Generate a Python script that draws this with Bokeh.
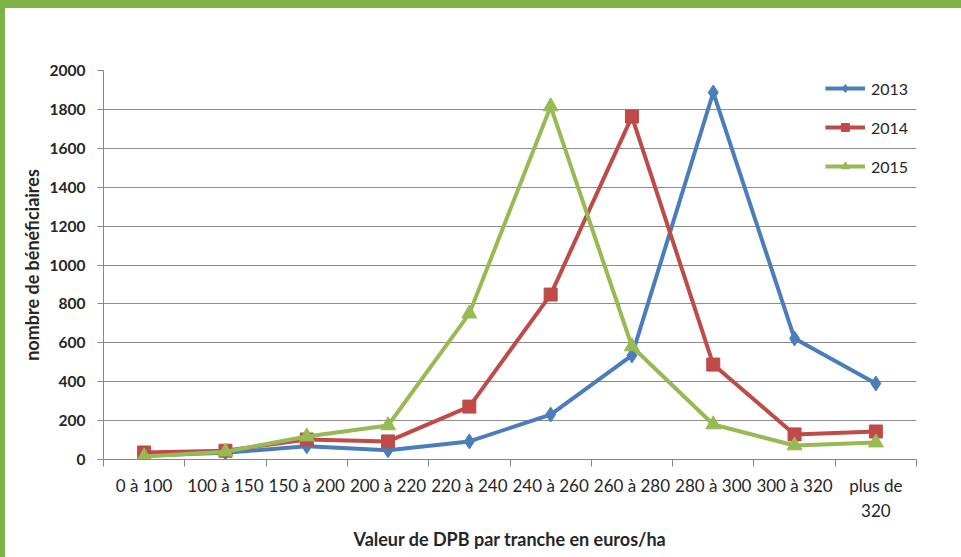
import numpy as np
from bokeh.plotting import figure
from bokeh.models import FixedTicker, Legend, LegendItem, Range1d, InlineStyleSheet
from bokeh.embed import file_html
from bokeh.resources import INLINE

categories = ["0 à 100", "100 à 150", "150 à 200", "200 à 220", "220 à 240",
              "240 à 260", "260 à 280", "280 à 300", "300 à 320", "plus de 320"]
tick_labels = ["0 à 100", "100 à 150", "150 à 200", "200 à 220", "220 à 240",
               "240 à 260", "260 à 280", "280 à 300", "300 à 320", "plus de\n320"]
years = ["2013", "2014", "2015"]
v2013 = [20, 35, 68, 47, 93, 231, 535, 1887, 622, 391]
v2014 = [36, 45, 103, 93, 272, 848, 1763, 488, 129, 144]
v2015 = [15, 40, 118, 175, 750, 1815, 581, 180, 72, 87]
y_ticks = list(range(0, 2001, 200))

FONT = "Lato"
colors = ["#4a7ebb", "#be4b48", "#98b954"]

n = len(categories)
xs = np.arange(n) + 0.5

p = figure(width=961, height=557, output_backend="svg", toolbar_location=None,
           x_range=Range1d(0, n), y_range=Range1d(0, 2000),
           min_border_left=103, min_border_right=45, min_border_top=70,
           min_border_bottom=98)
p.stylesheets = [InlineStyleSheet(css="""
:host::before { content: ""; position: absolute; left: 0; top: 0; width: 100%; height: 8px;
                background: #7db249; z-index: 100; pointer-events: none; }
:host::after { content: ""; position: absolute; left: 0; top: 0; width: 5px; height: 100%;
               background: #7db249; z-index: 100; pointer-events: none; }
""")]
p.outline_line_color = None
p.background_fill_color = "white"
p.border_fill_color = "white"

# x axis
p.xaxis.ticker = FixedTicker(ticks=list(xs), minor_ticks=list(range(0, n + 1)))
p.xaxis.major_label_overrides = {float(x): lab for x, lab in zip(xs, tick_labels)}
p.xaxis.major_tick_line_color = None
p.xaxis.major_tick_out = 0
p.xaxis.major_tick_in = 0
p.xaxis.minor_tick_out = 7
p.xaxis.minor_tick_in = 0
p.xaxis.minor_tick_line_color = "#868686"
p.xaxis.axis_line_color = "#868686"
p.xaxis.major_label_standoff = 8
p.xaxis.major_label_text_font = FONT
p.xaxis.major_label_text_font_size = "17px"
p.xaxis.major_label_text_color = "#262626"
p.xaxis.axis_label = "Valeur de DPB par tranche en euros/ha"
p.xaxis.axis_label_text_font = FONT
p.xaxis.axis_label_text_font_size = "18px"
p.xaxis.axis_label_text_font_style = "bold"
p.xaxis.axis_label_text_color = "#262626"
p.xaxis.axis_label_standoff = 4
p.xgrid.grid_line_color = None

# y axis
p.yaxis.ticker = FixedTicker(ticks=y_ticks, minor_ticks=[])
p.yaxis.major_tick_out = 6
p.yaxis.major_tick_in = 0
p.yaxis.major_tick_line_color = "#868686"
p.yaxis.axis_line_color = "#868686"
p.yaxis.major_label_standoff = 12
p.yaxis.major_label_text_font = FONT
p.yaxis.major_label_text_font_size = "15.5px"
p.yaxis.major_label_text_font_style = "bold"
p.yaxis.major_label_text_color = "#262626"
p.yaxis.axis_label = "nombre de bénéficiaires"
p.yaxis.axis_label_text_font = FONT
p.yaxis.axis_label_text_font_size = "18px"
p.yaxis.axis_label_text_font_style = "bold"
p.yaxis.axis_label_text_color = "#262626"
p.yaxis.axis_label_standoff = 4
p.ygrid.grid_line_color = "#8c8c8c"
p.ygrid.grid_line_width = 1

series = [v2013, v2014, v2015]
markers = ["diamond", "square", "triangle"]
sizes = [15, 13, 15]
items = []
for yr, vals, c, m, s in zip(years, series, colors, markers, sizes):
    l = p.line(xs, vals, line_color=c, line_width=4)
    sc = p.scatter(xs, vals, marker=m, size=s, fill_color=c, line_color=c)
    items.append(LegendItem(label=yr, renderers=[l, sc]))

legend = Legend(items=items, location="top_right")
legend.margin = 8
legend.padding = 8
legend.glyph_width = 40
legend.glyph_height = 20
legend.label_height = 20
legend.spacing = 19
legend.label_standoff = 6
legend.border_line_color = None
legend.background_fill_alpha = 0
legend.label_text_font = FONT
legend.label_text_font_size = "16px"
legend.label_text_color = "#262626"
p.add_layout(legend)

open("out.html", "w").write(file_html(p, INLINE))
